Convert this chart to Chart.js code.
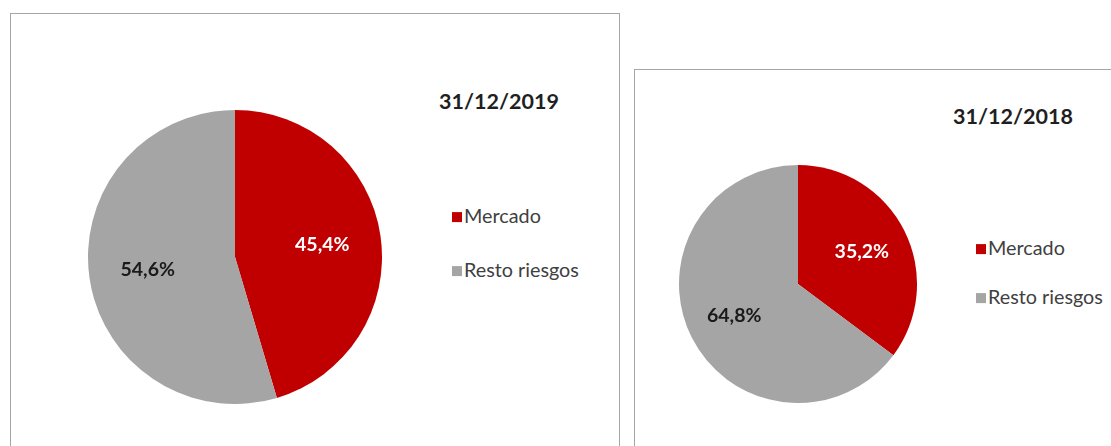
<!DOCTYPE html>
<html><head><meta charset="utf-8">
<script src="https://cdn.jsdelivr.net/npm/chart.js@4.4.1/dist/chart.umd.min.js"></script>
<style>
html,body{margin:0;padding:0;background:#fff;width:1111px;height:446px;overflow:hidden;font-family:Lato,"Open Sans",sans-serif;}
.panel{position:absolute;border:1px solid #a6a6a6;box-sizing:border-box;background:#fff;}
#p1{left:10px;top:13px;width:610px;height:460px;}
#p2{left:634px;top:69px;width:500px;height:420px;}
canvas{position:absolute;}
.title{position:absolute;font-weight:bold;font-size:21.5px;color:#1f1f1f;transform:translate(-50%,-50%);white-space:nowrap;}
.leg{position:absolute;font-size:19.8px;color:#404040;white-space:nowrap;transform:translateY(-50%);line-height:1;}
.leg .sw{display:inline-block;width:10px;height:10px;margin-right:2px;vertical-align:middle;position:relative;top:-1px;}
</style>
</head><body>
<div class="panel" id="p1"></div>
<div class="panel" id="p2"></div>
<canvas id="c1" width="294" height="294" style="left:88px;top:110px"></canvas>
<canvas id="c2" width="238" height="238" style="left:679px;top:165px"></canvas>
<script>
const categories = ['Mercado', 'Resto riesgos'];
const colors = ['#C00000', '#A5A5A5'];
const values2019 = [45.4, 54.6];
const values2018 = [35.2, 64.8];
const titles = ['31/12/2019', '31/12/2018'];
const labelColors = ['#ffffff', '#1a1a1a'];

const labelPlugin = {
  id: 'sliceLabels',
  afterDatasetsDraw(chart) {
    const ctx = chart.ctx;
    const meta = chart.getDatasetMeta(0);
    const data = chart.data.datasets[0].data;
    ctx.save();
    ctx.font = 'bold 19.5px Lato, sans-serif';
    ctx.textAlign = 'center';
    ctx.textBaseline = 'middle';
    meta.data.forEach((arc, i) => {
      const p = arc.getProps(['x','y','startAngle','endAngle','outerRadius'], true);
      const mid = (p.startAngle + p.endAngle) / 2;
      const r = p.outerRadius * 0.6;
      ctx.fillStyle = labelColors[i];
      ctx.fillText(data[i].toFixed(1).replace('.', ',') + '%', p.x + Math.cos(mid) * r, p.y + Math.sin(mid) * r);
    });
    ctx.restore();
  }
};

function makePie(id, values) {
  return new Chart(document.getElementById(id), {
    type: 'pie',
    data: { labels: categories, datasets: [{ data: values, backgroundColor: colors, borderWidth: 0 }] },
    options: {
      responsive: false, animation: false,
      layout: { padding: 0 },
      plugins: { legend: { display: false }, tooltip: { enabled: false }, title: { display: false } }
    },
    plugins: [labelPlugin]
  });
}
makePie('c1', values2019);
makePie('c2', values2018);

function addText(cls, text, x, y) {
  const d = document.createElement('div');
  d.className = cls; d.textContent = text;
  d.style.left = x + 'px'; d.style.top = y + 'px';
  document.body.appendChild(d);
  return d;
}
addText('title', titles[0], 499, 101);
addText('title', titles[1], 1013, 116);

function addLegend(x, ys) {
  categories.forEach((c, i) => {
    const d = document.createElement('div');
    d.className = 'leg';
    d.style.left = x + 'px'; d.style.top = ys[i] + 'px';
    const sw = document.createElement('span');
    sw.className = 'sw'; sw.style.background = colors[i];
    d.appendChild(sw);
    d.appendChild(document.createTextNode(c));
    document.body.appendChild(d);
  });
}
addLegend(452, [216, 270]);
addLegend(976, [248, 297]);
</script>
</body></html>
